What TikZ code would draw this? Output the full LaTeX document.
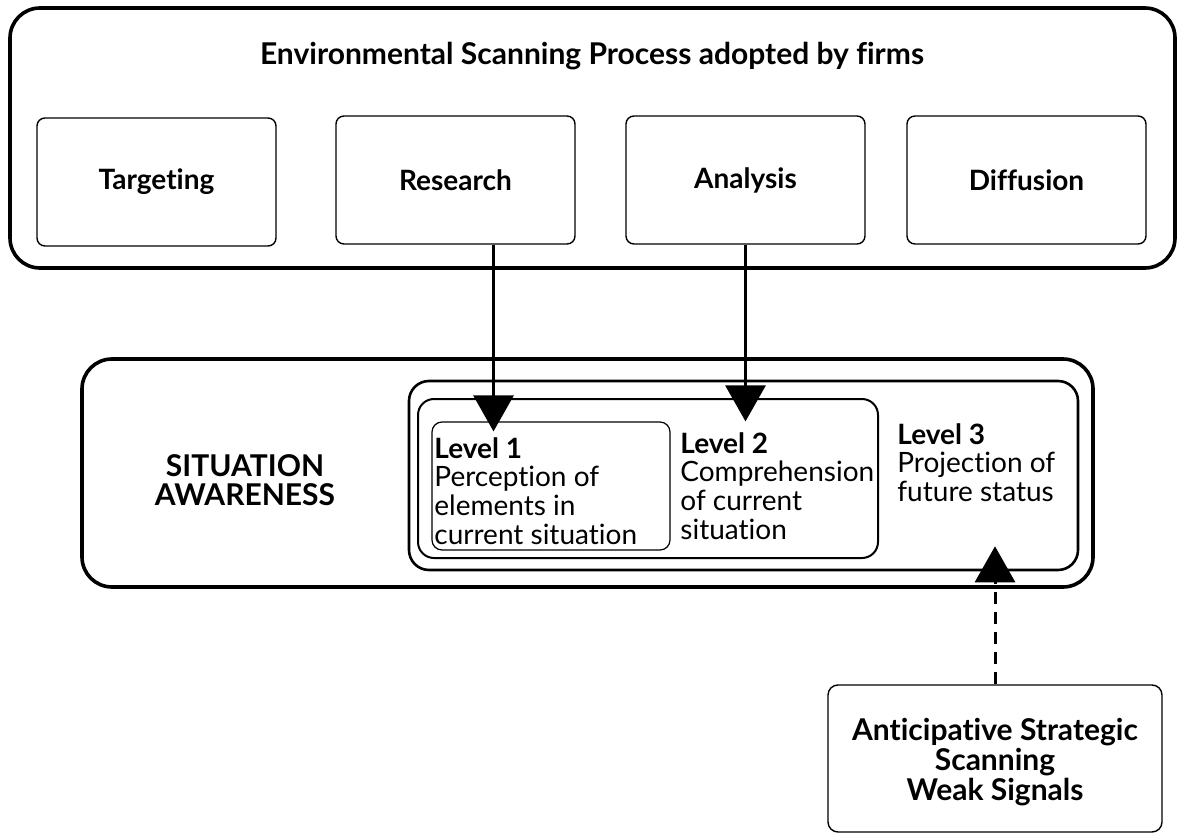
\documentclass[tikz,border=0pt]{standalone}
\usepackage{fontspec}
\setmainfont{Lato}[Ligatures=NoCommon]
\usetikzlibrary{arrows.meta}

\begin{document}
\begin{tikzpicture}[x=0.5pt,y=-0.5pt,
  frame/.style={draw,line width=1.8pt,rounded corners=15pt,inner sep=0pt},
  stage/.style={draw,line width=0.7pt,rounded corners=4pt,minimum width=119.5pt,minimum height=64pt,font=\bfseries\fontsize{14}{16}\selectfont},
  lvlbox/.style={draw,inner sep=0pt},
  lvltext/.style={anchor=north west,inner sep=0pt,align=left,font=\fontsize{14}{14.3}\selectfont},
  arr/.style={line width=1.5pt,-{Triangle[width=20pt,length=18pt]}}]
\useasboundingbox (0,0) rectangle (1178,834);
% scanning process
\node[frame,minimum width=582.5pt,minimum height=130pt] (esp) at (592.5,138) {};
\node[font=\bfseries\fontsize{15}{17}\selectfont] (title) at (592,56) {Environmental Scanning Process adopted by firms};
\node[stage] (tgt) at (156.5,182) {Targeting};
\node[stage] (res) at (455.5,180) {Research};
\node[stage] (ana) at (745.5,180) {Analysis};
\node[stage] (dif) at (1026.5,180) {Diffusion};
% situation awareness
\node[frame,minimum width=505.5pt,minimum height=114pt] (saw) at (587.5,473) {};
\node[font=\bfseries\fontsize{15}{14.5}\selectfont,align=center] (sa) at (245,480) {SITUATION\\AWARENESS};
\node[lvlbox,line width=1.3pt,rounded corners=10pt,minimum width=334.5pt,minimum height=94.5pt] (lvl3) at (743.5,475.5) {};
\node[lvlbox,line width=1pt,rounded corners=8pt,minimum width=230pt,minimum height=79.5pt] (lvl2) at (648,478.5) {};
\node[lvlbox,line width=0.6pt,rounded corners=5pt,minimum width=119pt,minimum height=64pt] (lvl1) at (551,486) {};
\node[lvltext] (t1) at (434,437) {\textbf{Level 1}\\Perception of\\elements in\\current situation};
\node[lvltext] (t2) at (680,432) {\textbf{Level 2}\\Comprehension\\of current\\situation};
\node[lvltext] (t3) at (897,423) {\textbf{Level 3}\\Projection of\\future status};
% weak signals
\node[draw,line width=0.7pt,rounded corners=5pt,minimum width=167pt,minimum height=73.5pt] (ass) at (995,758.5) {};
\node[align=center,font=\bfseries\fontsize{15}{15}\selectfont] (asst) at (995,762) {Anticipative Strategic\\Scanning\\Weak Signals};
% arrows
\coordinate (r1) at ([xshift=19pt]res.south);
\draw[arr,shorten >=-5pt] (r1) -- (r1 |- lvl1.north);
\draw[arr] (ana.south) -- (ana.south |- lvl1.north);
\draw[arr,dash pattern=on 6pt off 4pt] (ass.north) -- ++(0,-138);
\end{tikzpicture}
\end{document}
